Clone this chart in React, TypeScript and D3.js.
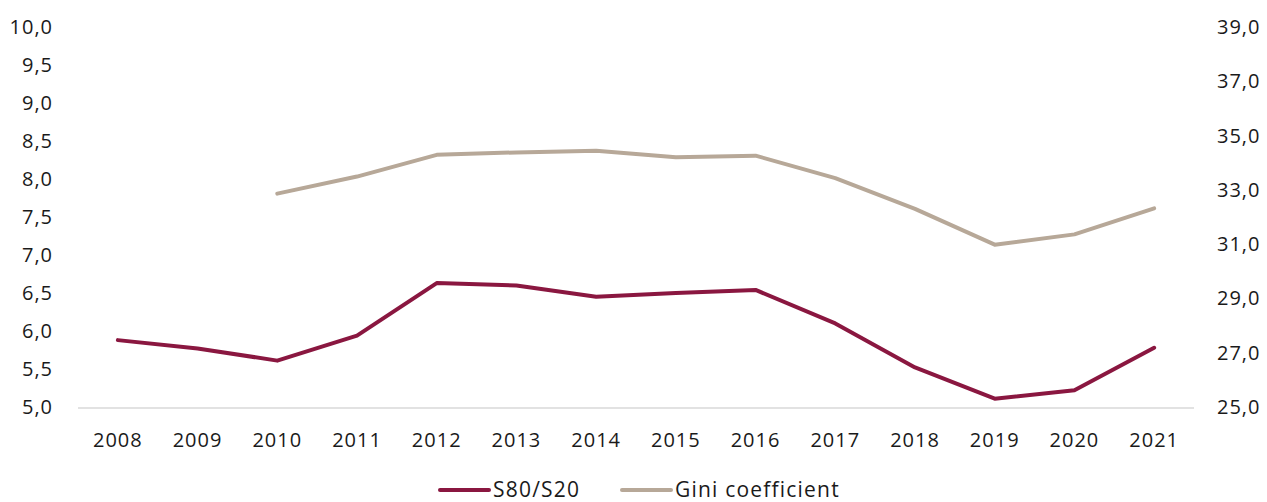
import React, { useRef, useEffect } from 'react';
import * as d3 from 'd3';

const years = ['2008', '2009', '2010', '2011', '2012', '2013', '2014', '2015', '2016', '2017', '2018', '2019', '2020', '2021'];
const s80s20 = [5.88, 5.77, 5.61, 5.94, 6.63, 6.60, 6.45, 6.50, 6.54, 6.10, 5.52, 5.11, 5.22, 5.78];
const gini = [null, null, 32.86, 33.49, 34.29, 34.38, 34.44, 34.20, 34.26, 33.43, 32.30, 30.98, 31.36, 32.32];
const leftTicks = [5, 5.5, 6, 6.5, 7, 7.5, 8, 8.5, 9, 9.5, 10];
const rightTicks = [25, 27, 29, 31, 33, 35, 37, 39];

const seriesNames = ['S80/S20', 'Gini coefficient'];
const colors = ['#8a1740', '#b7a898'];

const W = 1267;
const H = 502;
const margin = { top: 27, right: 73, bottom: 95, left: 78 };

const fmt = (v: number) => v.toFixed(1).replace('.', ',');

const App = () => {
  const svgRef = useRef<SVGSVGElement>(null);

  useEffect(() => {
    const svg = d3.select(svgRef.current);
    svg.selectAll('*').remove();
    const font = '"Open Sans", Lato, sans-serif';

    const x = d3.scaleBand<string>()
      .domain(years)
      .range([margin.left, W - margin.right]);

    const yL = d3.scaleLinear().domain([5, 10]).range([H - margin.bottom, margin.top]);
    const yR = d3.scaleLinear().domain([25, 39]).range([H - margin.bottom, margin.top]);

    // baseline
    svg.append('line')
      .attr('x1', margin.left)
      .attr('x2', W - margin.right)
      .attr('y1', yL(5) + 1)
      .attr('y2', yL(5) + 1)
      .attr('stroke', '#d9d9d9')
      .attr('stroke-width', 1.5);

    // left axis labels
    svg.append('g')
      .selectAll('text')
      .data(leftTicks)
      .join('text')
      .attr('x', 53)
      .attr('y', d => yL(d))
      .attr('dy', '0.35em')
      .attr('text-anchor', 'end')
      .attr('font-family', font)
      .attr('font-size', 20)
      .attr('letter-spacing', 1)
      .attr('fill', '#1a1a1a')
      .text(d => fmt(d));

    // right axis labels
    svg.append('g')
      .selectAll('text')
      .data(rightTicks)
      .join('text')
      .attr('x', 1217)
      .attr('y', d => yR(d))
      .attr('dy', '0.35em')
      .attr('text-anchor', 'start')
      .attr('font-family', font)
      .attr('font-size', 20)
      .attr('letter-spacing', 1)
      .attr('fill', '#1a1a1a')
      .text(d => fmt(d));

    // x labels
    svg.append('g')
      .selectAll('text')
      .data(years)
      .join('text')
      .attr('x', d => (x(d) ?? 0) + x.bandwidth() / 2)
      .attr('y', 440)
      .attr('dy', '0.35em')
      .attr('text-anchor', 'middle')
      .attr('font-family', font)
      .attr('font-size', 20)
      .attr('letter-spacing', 1)
      .attr('fill', '#1a1a1a')
      .text(d => d);

    const cx = (i: number) => (x(years[i]) ?? 0) + x.bandwidth() / 2;

    const lineL = d3.line<number>()
      .x((_, i) => cx(i))
      .y(d => yL(d));

    const lineR = d3.line<number | null>()
      .defined(d => d != null)
      .x((_, i) => cx(i))
      .y(d => yR(d as number));

    svg.append('path')
      .datum(gini)
      .attr('fill', 'none')
      .attr('stroke', colors[1])
      .attr('stroke-width', 4)
      .attr('stroke-linecap', 'round')
      .attr('stroke-linejoin', 'round')
      .attr('d', lineR);

    svg.append('path')
      .datum(s80s20)
      .attr('fill', 'none')
      .attr('stroke', colors[0])
      .attr('stroke-width', 4)
      .attr('stroke-linecap', 'round')
      .attr('stroke-linejoin', 'round')
      .attr('d', lineL);

    // legend
    const legendX = [440, 622];
    const legend = svg.append('g');
    seriesNames.forEach((name, i) => {
      legend.append('line')
        .attr('x1', legendX[i])
        .attr('x2', legendX[i] + 49)
        .attr('y1', 490)
        .attr('y2', 490)
        .attr('stroke', colors[i])
        .attr('stroke-width', 4)
        .attr('stroke-linecap', 'round');
      legend.append('text')
        .attr('x', legendX[i] + 53)
        .attr('y', 490)
        .attr('dy', '0.35em')
        .attr('font-family', font)
        .attr('font-size', 21)
        .attr('letter-spacing', 1.2)
        .attr('fill', '#1a1a1a')
        .text(name);
    });
  }, []);

  return (
    <div style={{ position: 'absolute', left: 0, top: 0, width: W, height: H, background: '#fff' }}>
      <svg ref={svgRef} width={W} height={H} style={{ display: 'block' }} />
    </div>
  );
};

export default App;
